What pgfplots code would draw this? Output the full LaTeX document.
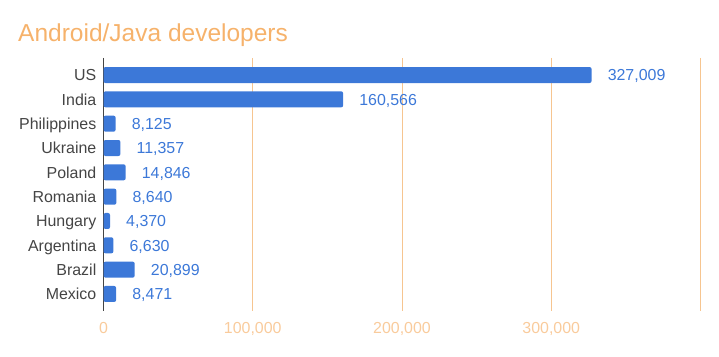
\documentclass[border=0pt]{standalone}
\usepackage{pgfplots}
\pgfplotsset{compat=1.18}
\usepackage{fontspec}
\setmainfont{Liberation Sans}
\definecolor{barblue}{HTML}{3C78D8}
\definecolor{titleor}{HTML}{F6B26B}
\definecolor{tickor}{HTML}{F9CB9C}
\definecolor{gridor}{HTML}{F6C590}
\definecolor{labgray}{HTML}{444444}
\begin{document}
\begin{tikzpicture}[x=1bp,y=1bp]
\useasboundingbox (0,0) rectangle (719,356);
\node[anchor=base west, text=titleor, font=\fontsize{24.6}{28}\selectfont, inner sep=0pt] at (18,315) {Android/Java developers};
\begin{axis}[
  at={(103.5bp,45bp)}, anchor=south west,
  scale only axis, width=597bp, height=253bp,
  xmin=0, xmax=400000, ymin=-0.7, ymax=9.7,
  y dir=reverse,
  xbar, bar width=16bp, bar shift=0pt,
  axis lines*=left,
  x axis line style={draw=none},
  y axis line style={draw=labgray, line width=1bp},
  major tick length=0pt,
  xtick={0,100000,200000,300000},
  xticklabels={{0},{100,000},{200,000},{300,000}},
  extra x ticks={400000},
  extra x tick labels={},
  extra x tick style={grid=major},
  ytick={0,...,9},
  yticklabels={US,India,Philippines,Ukraine,Poland,Romania,Hungary,Argentina,Brazil,Mexico},
  xmajorgrids, grid style={draw=gridor, line width=0.8bp},
  xticklabel style={text=tickor, font=\fontsize{16}{19}\selectfont, anchor=base, inner sep=0pt, yshift=-22bp},
  yticklabel style={text=labgray, font=\fontsize{16}{19}\selectfont, anchor=base east, inner sep=0pt, xshift=-7bp, yshift=-5.7bp},
  point meta=x,
  nodes near coords,
  nodes near coords style={/pgf/number format/fixed, /pgf/number format/precision=0, /pgf/number format/1000 sep={,}, /pgf/number format/assume math mode=true, anchor=base west, inner sep=0pt, xshift=16bp, yshift=-5.7bp, text=barblue, font=\fontsize{16}{19}\selectfont},
  clip=false,
]
\addplot[fill=barblue, draw=none, rounded corners=2bp] coordinates {
(327009,0) (160566,1) (8125,2) (11357,3) (14846,4) (8640,5) (4370,6) (6630,7) (20899,8) (8471,9)
};
\end{axis}
\end{tikzpicture}
\end{document}
